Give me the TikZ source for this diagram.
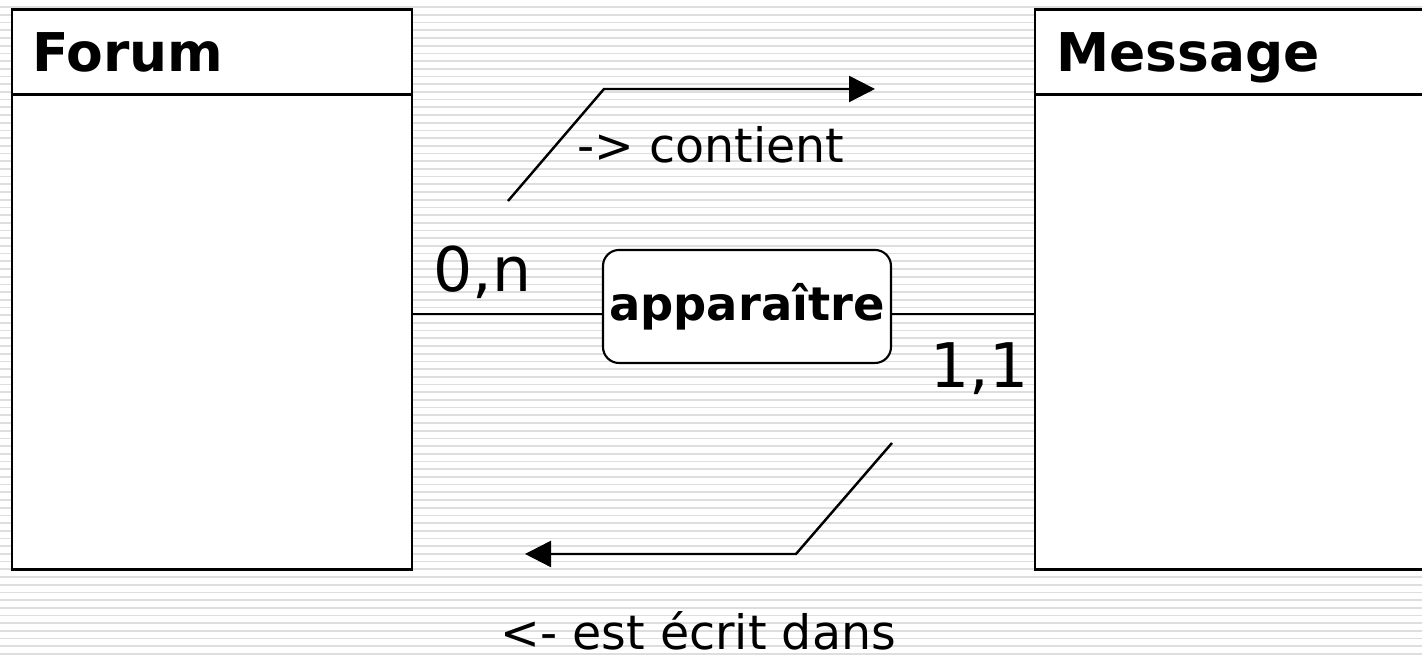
\documentclass[tikz,border=0pt]{standalone}
\usepackage{fontspec}
\setmainfont{DejaVu Sans}
\usetikzlibrary{arrows.meta}
\tikzstyle{stripe}=[black!13, line width=0.5pt]
\tikzstyle{entity}=[draw, fill=white, line width=0.85pt, minimum width=4cm, minimum height=5.6cm]
\tikzstyle{entity name}=[anchor=base west, inner sep=0pt, font=\fontsize{15.2}{18}\selectfont\bfseries]
\tikzstyle{relation}=[draw, fill=white, semithick, rounded corners=0.16cm, minimum width=2.88cm, minimum height=1.13cm, inner sep=0pt, font=\fontsize{13.2}{16}\selectfont\bfseries]
\tikzstyle{link}=[line width=0.6pt]
\tikzstyle{card}=[anchor=base west, inner sep=0pt, font=\fontsize{17.5}{20}\selectfont]
\tikzstyle{reading}=[line width=0.7pt, -{Triangle[length=0.26cm, width=0.26cm]}]
\tikzstyle{reading label}=[anchor=base west, inner sep=0pt, font=\fontsize{13.5}{16}\selectfont]

\begin{document}
\begin{tikzpicture}
  \clip (0, 0) rectangle (14.22, 6.59);
  \fill[white] (0, 0) rectangle (14.22, 6.59);
  \foreach \i in {0, ..., 86}
    \draw[stripe] (0, 0.05 + 0.077*\i) -- (14.22, 0.05 + 0.077*\i);

  \node[entity] (forum) at (2.12, 3.69) {};
  \node[entity] (message) at (12.35, 3.69) {};
  \draw[line width=0.8pt] ([yshift=-0.86cm]forum.north west) -- ([yshift=-0.86cm]forum.north east);
  \draw[line width=0.8pt] ([yshift=-0.86cm]message.north west) -- ([yshift=-0.86cm]message.north east);
  \node[entity name] (forum name) at ([xshift=0.21cm, yshift=-0.63cm]forum.north west) {Forum};
  \node[entity name] (message name) at ([xshift=0.22cm, yshift=-0.63cm]message.north west) {Message};

  \node[relation] (apparaitre) at (7.47, 3.525) {apparaître};
  \coordinate (axis) at (0, 3.45);
  \draw[link] (forum.east |- axis) -- (apparaitre.west |- axis);
  \draw[link] (apparaitre.east |- axis) -- (message.west |- axis);

  \node[card] (card forum) at (4.33, 3.67) {0,n};
  \node[card] (card message) at (9.3, 2.71) {1,1};

  \coordinate (contient start) at (5.08, 4.58);
  \coordinate (contient end) at (8.75, 5.70);
  \draw[reading] (contient start) -- (6.04, 5.70) -- (contient end);
  \node[reading label] (contient) at (5.77, 4.96) {-> contient};

  \coordinate (ecrit start) at (8.92, 2.16);
  \coordinate (ecrit end) at (5.25, 1.05);
  \draw[reading] (ecrit start) -- (7.96, 1.05) -- (ecrit end);
  \node[reading label] (ecrit) at (5.0, 0.09) {<- est écrit dans};
\end{tikzpicture}
\end{document}
